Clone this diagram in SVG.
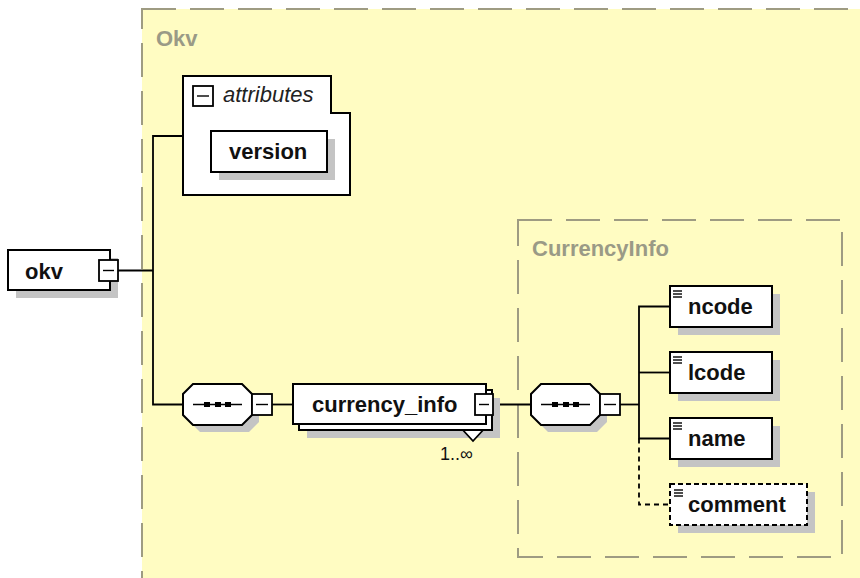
<svg xmlns="http://www.w3.org/2000/svg" width="860" height="578" viewBox="0 0 860 578">
<defs>
<style>
.grp{fill:none;stroke:#9e9b82;stroke-width:2;stroke-dasharray:34 14}
.glbl{font-family:"Liberation Sans",Arial,sans-serif;font-size:22px;font-weight:bold;fill:#9a9a86}
.box{fill:#ffffff;stroke:#000000;stroke-width:2}
.dbox{fill:#ffffff;stroke:#000000;stroke-width:2;stroke-dasharray:5 3}
.shd{fill:#c4c4c4;stroke:none}
.lbl{font-family:"Liberation Sans",Arial,sans-serif;font-size:22px;font-weight:bold;fill:#111111}
.ital{font-family:"Liberation Sans",Arial,sans-serif;font-size:22px;font-style:italic;fill:#222222}
.small{font-family:"Liberation Sans",Arial,sans-serif;font-size:18px;fill:#111111}
.ln{fill:none;stroke:#000000;stroke-width:1.8}
.dln{fill:none;stroke:#000000;stroke-width:1.8;stroke-dasharray:5 4}
.ic{fill:#ffffff;stroke:#000000;stroke-width:1.8}
.mk{stroke:#000000;stroke-width:1.4}
.dot{fill:#000000}
</style>
</defs>
<rect x="0" y="0" width="860" height="578" fill="#ffffff"/>
<g id="type-Okv">
<rect x="142" y="9" width="730" height="600" fill="#fffcc2" stroke="none"/>
<rect class="grp" x="142" y="9" width="730" height="600"/>
<text class="glbl" x="156" y="46">Okv</text>
</g>
<g id="type-CurrencyInfo">
<rect class="grp" x="518" y="220" width="324" height="337"/>
<text class="glbl" x="532" y="256">CurrencyInfo</text>
</g>
<g id="connectors">
<line class="ln" x1="118" y1="270.5" x2="153" y2="270.5"/>
<polyline class="ln" points="183,136 153,136 153,404.5 183,404.5"/>
<line class="ln" x1="272" y1="404.5" x2="293" y2="404.5"/>
<line class="ln" x1="493" y1="404.5" x2="531" y2="404.5"/>
<line class="ln" x1="620" y1="404.5" x2="639" y2="404.5"/>
<polyline class="ln" points="670,306.5 639,306.5 639,438.5 670,438.5"/>
<line class="ln" x1="639" y1="372.5" x2="670" y2="372.5"/>
<polyline class="dln" points="639,438.5 639,504.5 670,504.5"/>
</g>
<g id="okv">
<rect class="shd" x="16" y="258" width="102" height="40"/>
<rect class="box" x="8" y="250" width="102" height="40"/>
<text class="lbl" x="25" y="279">okv</text>
<rect class="ic" x="99" y="260" width="19" height="21"/>
<line class="mk" x1="103" y1="270.5" x2="114" y2="270.5"/>
</g>
<g id="attributes">
<polygon class="box" points="183,76 331,76 331,113 350,113 350,195 183,195"/>
<rect class="ic" x="193" y="86" width="20" height="20"/>
<line class="mk" x1="197" y1="96" x2="209" y2="96"/>
<text class="ital" x="223" y="102">attributes</text>
</g>
<g id="version">
<rect class="shd" x="219" y="139" width="116" height="41"/>
<rect class="box" x="211" y="131" width="116" height="41"/>
<text class="lbl" x="229" y="159">version</text>
</g>
<g id="sequence1">
<polygon class="shd" points="200,391 249,391 259,401 259,422 249,432 200,432 190,422 190,401"/>
<polygon class="box" points="193,384 242,384 252,394 252,415 242,425 193,425 183,415 183,394"/>
<line class="mk" x1="193" y1="404.5" x2="242" y2="404.5"/>
<rect class="dot" x="204" y="402" width="6" height="5"/>
<rect class="dot" x="215" y="402" width="6" height="5"/>
<rect class="dot" x="225" y="402" width="6" height="5"/>
<rect class="ic" x="252" y="394" width="20" height="21"/>
<line class="mk" x1="256" y1="404.5" x2="268" y2="404.5"/>
</g>
<g id="currency_info">
<rect class="shd" x="307" y="398" width="193" height="40"/>
<polygon class="ic" points="461,428 485,428 473,441"/>
<rect class="box" x="299" y="390" width="193" height="40"/>
<rect class="box" x="293" y="384" width="193" height="40"/>
<text class="lbl" x="312" y="412">currency_info</text>
<rect class="ic" x="475" y="394" width="18" height="21"/>
<line class="mk" x1="479" y1="404.5" x2="489" y2="404.5"/>
<text class="small" x="440" y="460">1..∞</text>
</g>
<g id="sequence2">
<polygon class="shd" points="548,391 597,391 607,401 607,422 597,432 548,432 538,422 538,401"/>
<polygon class="box" points="541,384 590,384 600,394 600,415 590,425 541,425 531,415 531,394"/>
<line class="mk" x1="541" y1="404.5" x2="590" y2="404.5"/>
<rect class="dot" x="552" y="402" width="6" height="5"/>
<rect class="dot" x="563" y="402" width="6" height="5"/>
<rect class="dot" x="573" y="402" width="6" height="5"/>
<rect class="ic" x="600" y="394" width="20" height="21"/>
<line class="mk" x1="604" y1="404.5" x2="616" y2="404.5"/>
</g>
<g id="ncode">
<rect class="shd" x="678" y="294" width="102" height="41"/>
<rect class="box" x="670" y="286" width="102" height="41"/>
<line class="mk" x1="673" y1="291" x2="682" y2="291"/>
<line class="mk" x1="673" y1="294" x2="682" y2="294"/>
<line class="mk" x1="673" y1="297" x2="682" y2="297"/>
<text class="lbl" x="688" y="314">ncode</text>
</g>
<g id="lcode">
<rect class="shd" x="678" y="360" width="102" height="41"/>
<rect class="box" x="670" y="352" width="102" height="41"/>
<line class="mk" x1="673" y1="357" x2="682" y2="357"/>
<line class="mk" x1="673" y1="360" x2="682" y2="360"/>
<line class="mk" x1="673" y1="363" x2="682" y2="363"/>
<text class="lbl" x="688" y="380">lcode</text>
</g>
<g id="name">
<rect class="shd" x="678" y="426" width="102" height="41"/>
<rect class="box" x="670" y="418" width="102" height="41"/>
<line class="mk" x1="673" y1="423" x2="682" y2="423"/>
<line class="mk" x1="673" y1="426" x2="682" y2="426"/>
<line class="mk" x1="673" y1="429" x2="682" y2="429"/>
<text class="lbl" x="688" y="446">name</text>
</g>
<g id="comment">
<rect class="shd" x="678" y="492" width="137" height="41"/>
<rect class="dbox" x="670" y="484" width="137" height="41"/>
<line class="mk" x1="674" y1="490" x2="683" y2="490"/>
<line class="mk" x1="674" y1="493" x2="683" y2="493"/>
<line class="mk" x1="674" y1="496" x2="683" y2="496"/>
<text class="lbl" x="688" y="512">comment</text>
</g>
</svg>
